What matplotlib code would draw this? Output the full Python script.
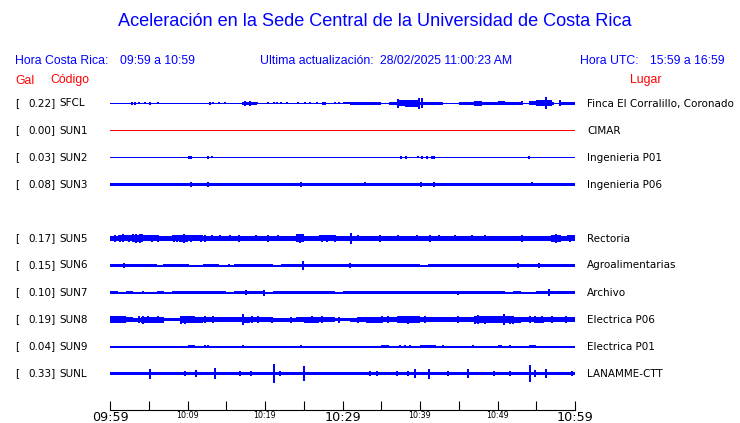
import numpy as np
import matplotlib
matplotlib.use("Agg")
import matplotlib.pyplot as plt

# ---------------- data ----------------
title = "Aceleración en la Sede Central de la Universidad de Costa Rica"
hora_cr = "09:59 a 10:59"
actualizacion = "28/02/2025 11:00:23 AM"
hora_utc = "15:59 a 16:59"

codes = ["SFCL", "SUN1", "SUN2", "SUN3", "SUN5", "SUN6", "SUN7", "SUN8", "SUN9", "SUNL"]
gal = [0.22, 0.00, 0.03, 0.08, 0.17, 0.15, 0.10, 0.19, 0.04, 0.33]
places = ["Finca El Corralillo, Coronado", "CIMAR", "Ingenieria P01", "Ingenieria P06",
          "Rectoria", "Agroalimentarias", "Archivo", "Electrica P06", "Electrica P01", "LANAMME-CTT"]

tick_minutes = [0, 5, 10, 15, 20, 25, 30, 35, 40, 45, 50, 55, 60]
tick_labels = ["09:59", "", "10:09", "", "10:19", "", "10:29", "", "10:39", "", "10:49", "", "10:59"]
big_tick_labels = ["09:59", "10:29", "10:59"]

# per-minute half-amplitude envelopes (in screen pixels)
env_SFCL = [0.5, 0.5, 0.5, 0.5, 0.5, 0.5, 0.5, 0.5, 0.5, 0.5, 0.5, 0.5, 0.5, 0.5, 0.5, 0.5, 0.5,
            1.5, 1.2, 0.5, 0.5, 0.5, 0.5, 0.5, 0.5, 0.5, 0.5, 0.5, 0.5, 0.5,
            1.0, 1.6, 1.7, 1.7, 1.6, 0.5, 1.5, 3.0, 3.3, 3.5,
            1.5, 1.2, 1.3, 0.5, 0.5, 1.3, 1.7, 2.5, 1.5, 1.5,
            2.0, 1.7, 1.5, 0.8, 2.0, 3.0, 3.0, 0.5, 1.6, 1.6]
env_SUN1 = [0.0] * 60
env_SUN2 = [0.5] * 60
env_SUN3 = [1.7, 1.7, 1.6, 1.7, 1.6, 1.7, 1.7, 1.7, 1.7, 1.7,
            1.7, 1.7, 1.7, 1.6, 1.5, 1.6, 1.5, 1.6, 1.5, 1.6,
            1.5, 1.6, 1.7, 1.7, 1.7, 1.7, 1.7, 1.7, 1.7, 1.7,
            1.7, 1.7, 1.7, 1.6, 1.6, 1.6, 1.6, 1.6, 1.6, 1.6,
            1.6, 1.7, 1.7, 1.7, 1.7, 1.6, 1.6, 1.7, 1.7, 1.7,
            1.7, 1.7, 1.7, 1.7, 1.7, 1.7, 1.7, 1.7, 1.7, 1.7]
env_SUN5 = [2.7, 3.0, 3.0, 3.8, 3.0, 3.0, 2.5, 2.5, 3.0, 3.3,
            3.0, 3.0, 2.7, 2.5, 2.5, 2.5, 2.7, 2.5, 2.5, 2.5,
            2.8, 2.5, 2.3, 2.7, 4.0, 2.5, 2.5, 3.0, 3.0, 2.8,
            2.3, 2.5, 2.3, 2.3, 2.5, 2.3, 2.3, 2.3, 2.5, 2.5,
            2.3, 2.7, 2.5, 2.5, 2.5, 2.3, 2.5, 2.3, 2.3, 2.3,
            2.5, 2.3, 2.5, 2.7, 2.5, 2.5, 2.7, 3.5, 2.8, 3.0]
env_SUN6 = [1.3, 1.5, 1.2, 1.3, 1.2, 1.3, 1.0, 1.3, 1.3, 1.2,
            1.0, 0.9, 1.2, 1.3, 1.0, 0.9, 1.3, 1.3, 1.2, 1.3,
            1.3, 1.0, 1.3, 1.3, 1.3, 1.3, 1.3, 1.3, 1.2, 1.3,
            1.3, 1.3, 1.3, 1.2, 1.3, 1.3, 1.3, 1.2, 1.3, 1.3,
            1.0, 1.3, 1.3, 1.3, 1.3, 1.3, 1.3, 1.3, 1.3, 1.2,
            1.3, 1.3, 1.3, 1.3, 1.3, 1.3, 1.3, 1.3, 1.3, 1.3]
env_SUN7 = [1.2, 0.5, 1.2, 1.0, 0.5, 0.5, 1.2, 0.5, 1.3, 1.3,
            1.2, 1.2, 1.3, 1.3, 1.3, 0.8, 1.2, 1.5, 1.2, 1.5,
            0.5, 1.2, 1.2, 1.2, 1.3, 1.3, 1.2, 1.3, 1.3, 1.0,
            1.2, 1.2, 1.2, 1.3, 1.3, 1.3, 1.3, 1.3, 1.3, 1.3,
            1.3, 1.3, 1.3, 1.3, 1.3, 1.2, 1.3, 1.3, 1.3, 1.3,
            1.3, 0.5, 1.2, 1.0, 0.8, 1.2, 1.5, 1.3, 1.3, 1.3]
env_SUN8 = [3.3, 3.2, 2.5, 2.0, 3.0, 3.0, 3.0, 1.5, 1.5, 3.3,
            3.3, 3.0, 2.5, 2.5, 2.3, 2.5, 2.5, 3.0, 2.8, 2.5,
            2.5, 2.0, 2.0, 2.0, 2.8, 3.0, 3.0, 2.8, 2.5, 1.5,
            1.5, 2.0, 2.3, 3.0, 3.0, 2.8, 2.5, 3.3, 3.5, 3.2,
            2.5, 2.5, 2.3, 2.5, 2.5, 2.5, 2.7, 3.5, 3.2, 3.3,
            3.5, 3.3, 3.0, 2.5, 2.7, 3.0, 2.7, 2.7, 2.7, 2.7]
env_SUN9 = [0.5, 0.5, 0.5, 0.5, 0.5, 0.5, 0.5, 0.5, 0.5, 0.5,
            1.2, 1.0, 0.5, 0.5, 0.5, 0.5, 0.5, 0.5, 0.5, 0.5,
            0.5, 0.5, 0.5, 0.5, 0.5, 0.5, 0.5, 0.5, 0.5, 0.5,
            0.5, 0.5, 0.5, 0.5, 0.5, 1.2, 0.5, 0.5, 0.5, 1.0,
            1.2, 1.2, 0.5, 0.5, 0.5, 0.5, 0.5, 0.5, 0.5, 0.5,
            0.5, 0.5, 0.5, 1.0, 1.2, 0.5, 0.5, 0.5, 0.5, 0.5]
env_SUNL = [1.5, 1.5, 1.5, 1.3, 1.5, 1.5, 1.5, 1.3, 1.5, 1.5,
            1.5, 1.7, 1.5, 1.7, 1.7, 1.3, 1.5, 1.2, 1.5, 1.3,
            1.5, 1.7, 1.3, 1.5, 1.7, 1.7, 1.5, 1.5, 1.5, 1.5,
            1.5, 1.5, 1.5, 1.5, 1.5, 1.5, 1.5, 1.7, 1.5, 1.5,
            1.5, 1.7, 1.5, 1.5, 1.5, 1.5, 1.5, 1.5, 1.5, 1.5,
            1.5, 1.5, 1.5, 1.5, 1.7, 1.5, 1.5, 1.5, 1.5, 1.7]

# individual spikes: (minute, half-amplitude in pixels)
spk_SFCL = [(2.8, 1.3), (3.2, 1.3), (3.7, 1.0), (4.5, 1.0), (5.2, 1.3), (6.2, 1.0),
            (12.9, 1.3), (13.3, 1.0), (14.0, 1.0), (14.8, 1.0), (17.4, 2.7), (18.0, 2.2),
            (19.0, 1.0), (20.4, 1.0), (21.1, 1.0), (21.5, 1.0), (22.0, 1.0), (22.9, 1.0),
            (24.3, 1.0), (25.2, 1.0), (25.8, 1.0), (26.7, 1.0), (27.5, 1.2), (27.7, 1.2),
            (29.0, 1.0), (29.5, 1.0), (37.2, 4.7), (39.9, 5.5), (40.2, 5.0), (53.1, 2.0),
            (56.3, 6.0), (57.2, 1.5), (58.0, 3.0)]
spk_SUN1 = []
spk_SUN2 = [(10.2, 1.3), (10.5, 1.3), (12.6, 1.3), (13.2, 1.0), (37.5, 1.2), (38.2, 1.2),
            (39.8, 1.0), (40.2, 1.5), (40.9, 1.5), (41.6, 1.5), (41.8, 1.5), (54.0, 1.3)]
spk_SUN3 = [(10.5, 2.5), (12.6, 2.3), (24.6, 2.5), (32.9, 2.0), (40.1, 2.7), (41.8, 2.7), (54.5, 2.0)]
spk_SUN5 = [(0.6, 3.3), (1.3, 3.5), (1.7, 4.0), (2.4, 3.5), (3.0, 4.0), (3.4, 4.2), (3.9, 4.5),
            (4.1, 4.0), (5.4, 3.5), (6.2, 3.3), (8.2, 3.3), (8.6, 3.5), (9.0, 3.5), (9.5, 4.5),
            (10.5, 3.3), (11.8, 3.3), (12.3, 3.3), (13.1, 3.0), (14.2, 3.0), (15.5, 3.0),
            (16.6, 3.3), (18.9, 3.0), (20.4, 3.8), (21.7, 3.0), (24.1, 4.0), (24.5, 4.5),
            (24.7, 4.0), (27.3, 3.3), (28.0, 3.3), (29.0, 3.3), (31.1, 5.7), (32.0, 3.0),
            (34.8, 3.3), (37.2, 3.0), (39.6, 3.0), (41.3, 3.2), (42.4, 3.0), (44.5, 3.0),
            (46.7, 3.0), (48.4, 3.0), (53.1, 3.2), (57.0, 3.8), (57.6, 4.2), (58.1, 3.5),
            (59.4, 3.3)]
spk_SUN6 = [(1.8, 2.0), (7.0, 1.7), (10.0, 1.7), (15.3, 1.7), (17.0, 1.6), (24.9, 4.3),
            (31.0, 2.0), (34.6, 1.7), (38.5, 1.7), (45.0, 1.7), (52.7, 2.0), (55.3, 2.0)]
spk_SUN7 = [(4.2, 1.5), (17.5, 2.5), (19.9, 3.0), (44.9, 2.0), (56.6, 3.2)]
spk_SUN8 = [(0.6, 3.8), (1.9, 3.7), (3.7, 3.8), (4.3, 4.0), (4.9, 3.7), (6.2, 3.5),
            (9.2, 4.0), (9.7, 4.0), (10.6, 3.7), (12.3, 3.3), (13.3, 3.3), (17.1, 5.5),
            (18.3, 3.3), (19.1, 3.3), (20.9, 3.0), (23.4, 3.0), (26.0, 3.5), (27.3, 3.5),
            (29.5, 3.0), (32.0, 3.0), (35.1, 3.5), (35.9, 3.5), (37.2, 3.8), (38.5, 4.0),
            (39.6, 3.8), (40.6, 3.3), (44.9, 3.3), (47.1, 4.0), (47.5, 4.5), (48.4, 4.0),
            (49.5, 3.8), (50.8, 5.2), (51.6, 4.0), (52.0, 4.0), (54.2, 3.5), (54.8, 3.5),
            (55.7, 3.7), (57.0, 3.3), (58.9, 3.3)]
spk_SUN9 = [(0.9, 1.0), (2.5, 1.0), (4.4, 1.0), (5.1, 1.0), (5.7, 1.0), (9.3, 1.0), (9.7, 1.0),
            (12.3, 1.3), (12.7, 1.3), (13.2, 1.0), (16.6, 1.0), (17.1, 1.2), (21.5, 1.0),
            (24.6, 1.3), (28.0, 1.0), (33.8, 1.0), (37.4, 1.2), (38.1, 1.2), (38.7, 1.2),
            (43.0, 1.2), (43.9, 1.0), (46.9, 1.2), (47.3, 1.0), (48.2, 1.0), (49.9, 1.0),
            (50.2, 1.2), (50.5, 1.2), (51.0, 1.0), (51.6, 1.2), (52.5, 1.0), (56.1, 1.0),
            (56.6, 1.0), (57.2, 1.0), (59.6, 1.0)]
spk_SUNL = [(5.1, 5.0), (9.7, 2.0), (11.1, 3.5), (13.6, 6.0), (16.8, 3.0), (18.2, 2.0),
            (21.2, 9.0), (21.9, 2.5), (25.0, 7.0), (33.6, 2.5), (34.4, 2.5), (37.0, 2.0),
            (38.5, 2.5), (39.3, 4.0), (41.2, 5.0), (43.6, 3.0), (46.2, 4.5), (49.5, 2.5),
            (51.6, 3.0), (54.2, 8.5), (54.8, 3.5), (56.3, 4.0), (59.6, 2.0)]

envelopes = [env_SFCL, env_SUN1, env_SUN2, env_SUN3, env_SUN5, env_SUN6, env_SUN7, env_SUN8, env_SUN9, env_SUNL]
spikes = [spk_SFCL, spk_SUN1, spk_SUN2, spk_SUN3, spk_SUN5, spk_SUN6, spk_SUN7, spk_SUN8, spk_SUN9, spk_SUNL]

# ---------------- layout ----------------
W, H = 740, 423
BLUE = "#0000ff"
RED = "#ff0000"
ROW_PX = 27.0
FIRST_ROW_PX = 103.5
AX_LEFT, AX_RIGHT = 110, 575
AX_BOTTOM_PX = 409.5
AX_TOP_PX = FIRST_ROW_PX - 0.5 * ROW_PX

def fx(px):
    return px / W

def fy(py):
    return 1 - py / H

fig = plt.figure(figsize=(W / 100, H / 100), dpi=100)
fig.patch.set_facecolor("white")
ax = fig.add_axes([fx(AX_LEFT), fy(AX_BOTTOM_PX), (AX_RIGHT - AX_LEFT) / W, (AX_BOTTOM_PX - AX_TOP_PX) / H])
ax.set_xlim(0, 60)
ax.set_ylim((AX_BOTTOM_PX - FIRST_ROW_PX) / ROW_PX, -0.5)
for s in ["left", "right", "top"]:
    ax.spines[s].set_visible(False)
ax.spines["bottom"].set_linewidth(0.8)
ax.set_yticks([])
ax.set_facecolor("none")

edges = np.arange(61)
lbl_font = "DejaVu Sans"
hdr_font = "Liberation Sans"
LBL_SIZE = 7.5

for i, code in enumerate(codes):
    row = i + (1 if i >= 4 else 0)   # empty slot after SUN3
    col = RED if gal[i] == 0 else BLUE
    a = np.array(envelopes[i], dtype=float) / ROW_PX
    a = np.append(a, a[-1])
    if np.any(a > 0):
        ax.fill_between(edges, row - a, row + a, step="post", facecolor=col,
                        lw=0, antialiased=False)
    ax.hlines(row, 0, 60, color=col, lw=0.65, antialiased=False)
    if spikes[i]:
        sx = [s[0] for s in spikes[i]]
        sa = np.array([s[1] for s in spikes[i]]) / ROW_PX
        ax.vlines(sx, row - sa, row + sa, color=col, lw=1.1, antialiased=False)
    ypx = FIRST_ROW_PX + row * ROW_PX
    fig.text(fx(15), fy(ypx), "[", fontsize=LBL_SIZE, family=lbl_font, va="center", ha="left")
    fig.text(fx(55.5), fy(ypx), f"{gal[i]:.2f}]", fontsize=LBL_SIZE, family=lbl_font, va="center", ha="right")
    fig.text(fx(59), fy(ypx), code, fontsize=LBL_SIZE, family=lbl_font, va="center", ha="left")
    fig.text(fx(587), fy(ypx), places[i], fontsize=LBL_SIZE, family=lbl_font, va="center", ha="left")

# time axis
ax.set_xticks(tick_minutes)
ax.set_xticklabels(tick_labels, family=lbl_font)
ax.tick_params(axis="x", direction="in", length=6.8, width=0.8, pad=1.2)
for t in ax.get_xticklabels():
    t.set_fontsize(9.2 if t.get_text() in big_tick_labels else 5.8)

# header texts
HDR = 8.8
fig.text(fx(375), fy(22), title, fontsize=13.1, family=hdr_font, color=BLUE, ha="center", va="center")
fig.text(fx(15), fy(60.5), "Hora Costa Rica:", fontsize=HDR, family=hdr_font, color=BLUE, va="center")
fig.text(fx(120), fy(60.5), hora_cr, fontsize=HDR, family=hdr_font, color=BLUE, va="center")
fig.text(fx(260), fy(60.5), "Ultima actualización:", fontsize=HDR, family=hdr_font, color=BLUE, va="center")
fig.text(fx(380), fy(60.5), actualizacion, fontsize=HDR, family=hdr_font, color=BLUE, va="center")
fig.text(fx(580.5), fy(60.5), "Hora UTC:", fontsize=HDR, family=hdr_font, color=BLUE, va="center")
fig.text(fx(650.5), fy(60.5), hora_utc, fontsize=HDR, family=hdr_font, color=BLUE, va="center")
fig.text(fx(15), fy(80.5), "Gal", fontsize=HDR, family=hdr_font, color=RED, va="center")
fig.text(fx(50), fy(80.5), "Código", fontsize=HDR, family=hdr_font, color=RED, va="center")
fig.text(fx(630), fy(80.5), "Lugar", fontsize=HDR, family=hdr_font, color=RED, va="center")

fig.savefig("out.png", dpi=100, facecolor="white")
